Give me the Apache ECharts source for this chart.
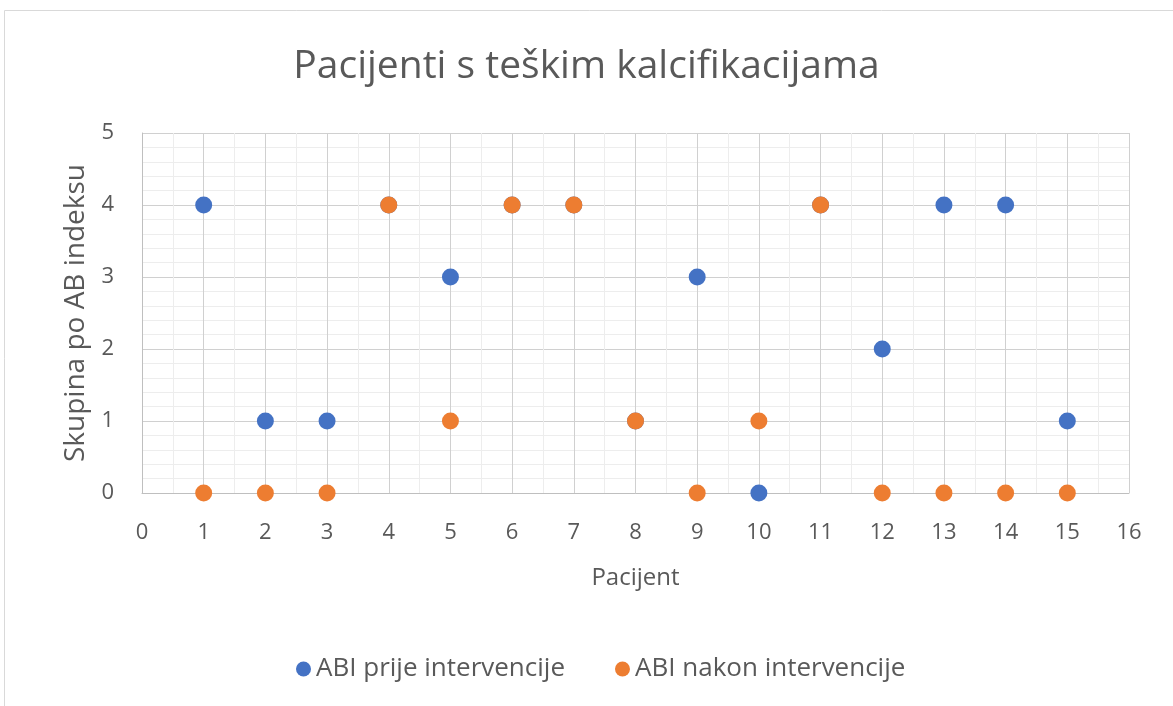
<!DOCTYPE html>
<html>
<head>
<meta charset="utf-8">
<script src="https://cdn.jsdelivr.net/npm/echarts@6/dist/echarts.min.js"></script>
<style>
  html, body { margin: 0; padding: 0; background: #fff; }
  #main { width: 1173px; height: 706px; }
</style>
</head>
<body>
<div id="main"></div>
<script>
// podaci
var pacijenti = [1, 2, 3, 4, 5, 6, 7, 8, 9, 10, 11, 12, 13, 14, 15];
var abiPrije = [4, 1, 1, 4, 3, 4, 4, 1, 3, 0, 4, 2, 4, 4, 1];
var abiNakon = [0, 0, 0, 4, 1, 4, 4, 1, 0, 1, 4, 0, 0, 0, 0];
var nazivi = ['ABI prije intervencije', 'ABI nakon intervencije'];

function parovi(vals) {
  return pacijenti.map(function (p, i) { return [p, vals[i]]; });
}

var myChart = echarts.init(document.getElementById('main'));
var txt = '#595959';
var font = '"Open Sans", "Noto Sans", sans-serif';

var option = {
  color: ['#4472C4', '#ED7D31'],
  animation: false,
  graphic: [{
    type: 'rect',
    shape: { x: 4.5, y: 10.5, width: 1180, height: 700 },
    style: { fill: 'none', stroke: '#d9d9d9', lineWidth: 1 }
  }],
  title: {
    text: 'Pacijenti s teškim kalcifikacijama',
    left: 'center',
    top: 42,
    textStyle: { color: txt, fontSize: 39, fontWeight: 'normal', fontFamily: font }
  },
  legend: {
    data: nazivi,
    top: 651,
    left: 291,
    itemGap: 50,
    itemWidth: 15,
    itemHeight: 15,
    itemStyle: { opacity: 1 },
    icon: 'circle',
    textStyle: { color: txt, fontSize: 26, fontFamily: font }
  },
  grid: { left: 142, right: 44, top: 133, bottom: 213 },
  xAxis: {
    type: 'value',
    min: 0, max: 16, interval: 1,
    name: 'Pacijent',
    nameLocation: 'middle',
    nameGap: 73,
    nameTextStyle: { color: txt, fontSize: 24, fontFamily: font },
    axisLine: { show: true, lineStyle: { color: '#bfbfbf' } },
    axisTick: { show: false },
    axisLabel: { color: txt, fontSize: 22, margin: 29, fontFamily: font },
    splitLine: { show: true, lineStyle: { color: '#d0d0d0' } },
    minorTick: { show: false, splitNumber: 2 },
    minorSplitLine: { show: true, lineStyle: { color: '#ededed' } }
  },
  yAxis: {
    type: 'value',
    min: 0, max: 5, interval: 1,
    name: 'Skupina po AB indeksu',
    nameLocation: 'middle',
    nameGap: 52,
    nameTextStyle: { color: txt, fontSize: 28, fontFamily: font },
    axisLine: { show: true, lineStyle: { color: '#bfbfbf' } },
    axisTick: { show: false },
    axisLabel: { color: txt, fontSize: 22, margin: 28, fontFamily: font },
    splitLine: { show: true, lineStyle: { color: '#d0d0d0' } },
    minorTick: { show: false, splitNumber: 5 },
    minorSplitLine: { show: true, lineStyle: { color: '#ededed' } }
  },
  series: [
    {
      name: nazivi[0],
      type: 'scatter',
      symbolSize: 17,
      itemStyle: { opacity: 1 },
      data: parovi(abiPrije)
    },
    {
      name: nazivi[1],
      type: 'scatter',
      symbolSize: 17,
      itemStyle: { opacity: 1 },
      data: parovi(abiNakon)
    }
  ]
};

myChart.setOption(option);
</script>
</body>
</html>
